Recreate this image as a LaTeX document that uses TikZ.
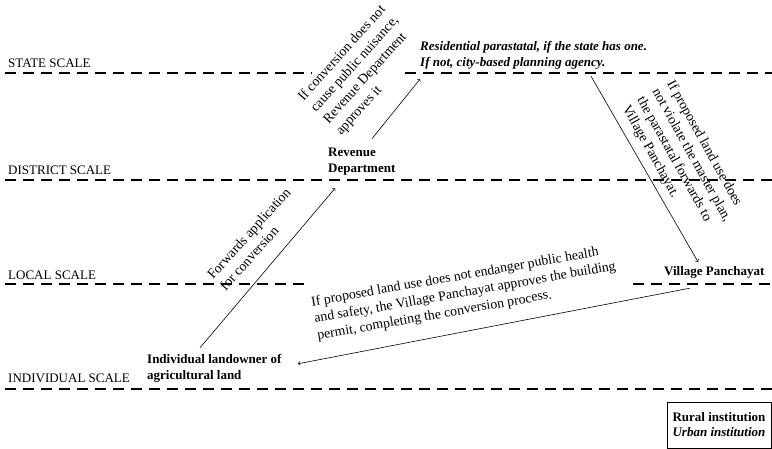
\documentclass[tikz,border=0pt]{standalone}
\usepackage{fontspec}
\setmainfont{Liberation Serif}
\usetikzlibrary{positioning}

\tikzset{
  levelline/.style={line width=1.1pt, dash pattern=on 11pt off 7pt},
  levelname/.style={anchor=base west, inner sep=0pt},
  inst/.style={inner sep=0pt, align=left, anchor=west, font=\fontsize{13}{16}\selectfont\bfseries},
  note/.style={inner sep=0pt, align=left, anchor=north west, font=\fontsize{13.8}{17}\selectfont},
  flow/.style={->, line width=0.6pt}
}

\begin{document}
\begin{tikzpicture}[x=1pt, y=-1pt, font=\fontsize{13}{16}\selectfont]
  \useasboundingbox (0,0) rectangle (772,449);

  % scale lines
  \draw[levelline] (5,73) -- (312,73) (405,73) -- (772,73);
  \draw[levelline] (5,180) -- (772,180);
  \draw[levelline] (5,284) -- (310,284) (633,284) -- (772,284);
  \draw[levelline] (5,389) -- (772,389);
  \node[levelname] (state) at (8,68) {STATE SCALE};
  \node[levelname] (district) at (8,175) {DISTRICT SCALE};
  \node[levelname] (local) at (8,280) {LOCAL SCALE};
  \node[levelname] (individual) at (8,382) {INDIVIDUAL SCALE};

  % institutions
  \node[inst] (owner) at (147,368) {Individual landowner of\\agricultural land};
  \node[inst] (revdept) at (328,161.5) {Revenue\\Department};
  \node[inst, font=\fontsize{13}{16}\selectfont\bfseries\itshape] (parastatal) at (420,55)
    {Residential parastatal, if the state has one.\\If not, city-based planning agency.};
  \node[inst] (village) at (664,272) {Village Panchayat};

  % flows
  \draw[flow] ([xshift=53pt,yshift=6pt]owner.north west) -- ([xshift=7pt,yshift=-13pt]revdept.south west);
  \draw[flow] ([xshift=44pt,yshift=9pt]revdept.north west) -- ([yshift=-10pt]parastatal.south west);
  \draw[flow] ([xshift=171pt,yshift=-7pt]parastatal.south west) -- ([xshift=34pt,yshift=4pt]village.north west);
  \draw[flow] ([xshift=26pt,yshift=-10pt]village.south west) -- ([xshift=151pt,yshift=-10pt]owner.north west);

  % notes
  \node[note, rotate=48] (fwdnote) at (205.8,273.5) {Forwards application\\for conversion};
  \node[note, rotate=48] (revnote) at (296,95)
    {If conversion does not\\cause public nuisance,\\Revenue Department\\approves it};
  \node[note, rotate=-61] (planote) at (675.5,78.3)
    {If proposed land use does\\not violate the master plan,\\the parastatal forwards to\\Village Panchayat.};
  \node[note, rotate=10] (vilnote) at (310.3,296.5)
    {If proposed land use does not endanger public health\\and safety, the Village Panchayat approves the building\\permit, completing the conversion process.};

  % legend
  \node[draw, line width=0.8pt, minimum width=104pt, minimum height=46pt, align=center,
    font=\fontsize{13}{15}\selectfont] (legend) at (719,425)
    {\textbf{Rural institution}\\\textbf{\textit{Urban institution}}};
\end{tikzpicture}
\end{document}
